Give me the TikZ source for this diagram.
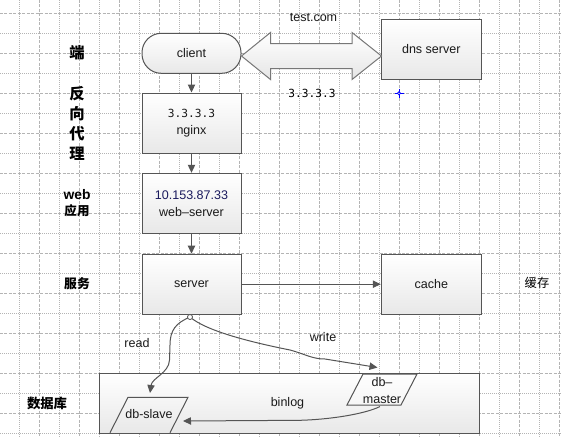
\documentclass[tikz,border=0pt]{standalone}
\usepackage{fontspec}
\setmainfont{Liberation Sans}
\newfontfamily\cjk{Noto Sans CJK SC}
\newfontfamily\monof{DejaVu Sans Mono}
\usetikzlibrary{arrows.meta}
\definecolor{edge}{HTML}{555555}
\definecolor{gridc}{HTML}{B4B4B4}
\definecolor{ink}{HTML}{1A1A1A}
\definecolor{navy}{HTML}{1B1B5E}
\begin{document}
\begin{tikzpicture}[x=0.75pt,y=-0.75pt,
  gdash/.style={draw=gridc,line width=0.75pt,dash pattern=on 2.25pt off 1.1pt},
  gdot/.style={draw=gridc,line width=0.75pt,dash pattern=on 0.75pt off 0.75pt},
  box/.style={draw=edge,line width=0.75pt,top color=white,bottom color=black!9,
    minimum width=74.25pt,minimum height=45pt,inner sep=0pt,align=center,
    font=\fontsize{9.4}{12.75}\selectfont,text=ink},
  conn/.style={draw=edge,line width=0.75pt,-{Triangle[length=6pt,width=5.5pt]}},
  lbl/.style={inner sep=0pt,text=ink,font=\fontsize{9.4}{12.75}\selectfont,align=center},
  cjkbig/.style={inner sep=0pt,align=center,font=\cjk\bfseries\fontsize{11.5}{15}\selectfont},
  cjkmid/.style={inner sep=0pt,align=center,font=\cjk\bfseries\fontsize{9.6}{12.75}\selectfont},
  monolbl/.style={inner sep=0pt,font=\monof\fontsize{8.4}{12.75}\selectfont}
]
\useasboundingbox (0,0) rectangle (562,437);
\fill[white] (0,0) rectangle (562,437);
% grid
\foreach \k in {1,...,28}{
  \pgfmathsetmacro\xx{20*\k-0.7}
  \ifodd\k \draw[gdot] (\xx,0) -- (\xx,437); \else \draw[gdash] (\xx,0) -- (\xx,437); \fi
}
\foreach \m in {0,...,21}{
  \pgfmathsetmacro\yy{13.3+20*\m}
  \ifodd\m \draw[gdot] (0,\yy) -- (562,\yy); \else \draw[gdash] (0,\yy) -- (562,\yy); \fi
}
% nodes
\node[box,minimum height=30pt,rounded corners=14.5pt] (client) at (191.5,53.3) {client};
\node[box] (nginx) at (191.5,123) {{\monof\fontsize{8.4}{12.75}\selectfont 3.3.3.3}\\nginx};
\node[box] (web) at (191.5,203.3) {\textcolor{navy}{10.153.87.33}\\web–server};
\node[box] (server) at (191.5,284.2) {server};
\node[box,minimum width=75pt] (cache) at (431.3,284.2) {cache};
\node[box,minimum width=75pt] (dns) at (431.3,49.3) {dns server};
% double arrow
\coordinate (la) at (241.5,56);
\coordinate (ra) at (381.5,56);
\draw[draw=edge!80,line width=0.75pt,top color=white,bottom color=black!10]
  (la) -- ++(29,-23.5) -- ++(0,11) -- (352,43.5) -- (352,32.5) -- (ra)
  -- (352,79.5) -- (352,68.5) -- (270.5,68.5) -- (270.5,79.5) -- cycle;
\node[lbl] (test) at (313.5,18) {test.com};
\node[monolbl] (ip) at (312,93) {3.3.3.3};
% blue cursor mark
\draw[blue,line width=0.75pt] (394.5,93.3) -- (403.5,93.3) (399,88.8) -- (399,97.8);
\draw[blue,fill=white,line width=0.6pt] (399,93.3) circle (1.6);
% database area
\node[box,minimum width=285pt,minimum height=45pt] (db) at (289.7,403) {};
\draw[edge,line width=0.75pt] (110,432.7) -- (128,397.3) -- (188,397.3) -- (170,432.7);
\node[lbl] (slave) at (149,414) {db-slave};
\draw[edge,line width=0.75pt,fill=white,fill opacity=0.3] (347,405) -- (363,374) -- (417,374) -- (401,405) -- cycle;
\node[lbl] (master) at (382,390.5) {db–\\master};
\node[lbl] (binlog) at (287.5,403) {binlog};
% vertical connectors
\draw[conn] (client) -- (nginx);
\draw[conn] (nginx) -- (web);
\draw[conn] (web) -- (server);
\draw[conn] (server) -- (cache);
% read / write
\coordinate (s0) at (190,317);
\coordinate (rd) at (150,393);
\coordinate (wr) at (377.5,367.5);
\draw[conn] (s0) .. controls (176,323) and (170,330) .. (170,345) -- (169.5,360)
  .. controls (169,373) and (152,378) .. (rd);
\draw[conn] (s0) .. controls (205,330) and (245,341) .. (290,350)
  .. controls (305,354) and (312,359) .. (325,359) -- (wr);
\node[circle,draw=edge,fill=white,line width=0.6pt,inner sep=0pt,minimum size=3.8pt] (sc) at (s0) {};
\node[lbl] (readl) at (137,342.7) {read};
\node[lbl] (writel) at (323,337) {write};
% binlog
\coordinate (bs) at (380,406.5);
\coordinate (be) at (183,421);
\draw[conn] (bs) .. controls (365,414) and (330,419.5) .. (300,420.3) -- (be);
% side labels
\node[cjkbig] (l1) at (77,53) {端};
\node[cjkbig] (l2) at (77,123) {反\\[0pt]向\\代\\理};
\node[inner sep=0pt,align=center] (l3) at (77,203.5)
  {{\bfseries\fontsize{10.4}{12.75}\selectfont web}\\{\cjk\bfseries\fontsize{9.4}{12.75}\selectfont 应用}};
\node[cjkmid] (l4) at (77,284) {服务};
\node[cjkmid,font=\cjk\bfseries\fontsize{10}{12.75}\selectfont] (l5) at (47,403) {数据库};
\node[inner sep=0pt,font=\cjk\fontsize{9.2}{12}\selectfont] (l6) at (537,283) {缓存};
\end{tikzpicture}
\end{document}
